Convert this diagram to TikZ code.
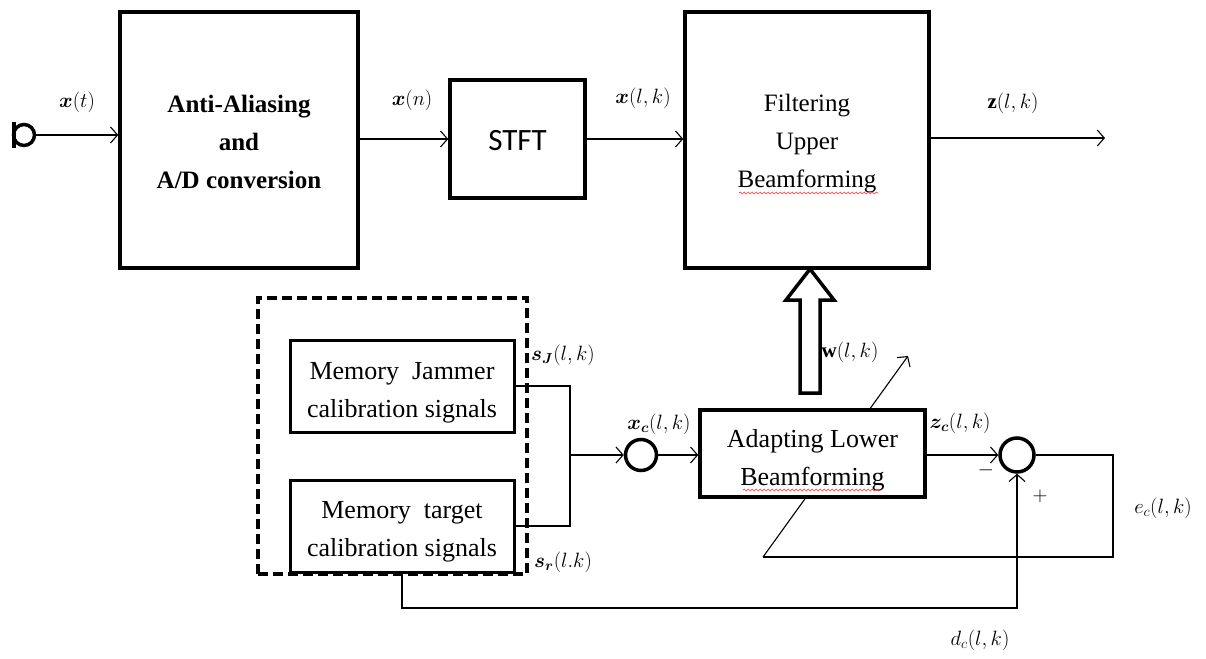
\documentclass[tikz,border=0pt]{standalone}
\usepackage{fontspec}
\usepackage{amsmath,bm}
\setmainfont{Liberation Serif}
\newfontfamily\stftfont{Carlito}
\usetikzlibrary{arrows.meta,decorations.pathmorphing}
\begin{document}
\begin{tikzpicture}[x=1pt,y=-1pt,
  blk/.style={draw,line width=3.5pt,fill=white,inner sep=0pt},
  txt/.style={align=center,inner sep=0pt,font=\fontsize{25}{38}\selectfont},
  conn/.style={line width=1.1pt},
  arr/.style={conn,-{Straight Barb[length=7pt,width=16pt,line width=1.1pt]}},
  lbl/.style={font=\fontsize{21}{24}\selectfont,inner sep=0pt},
  wavy/.style={red!80,line width=0.6pt,decorate,decoration={snake,amplitude=1pt,segment length=4pt}}]
\useasboundingbox (0,0) rectangle (1206,658);

% source
\node[circle,draw,line width=3.5pt,minimum size=21pt,inner sep=0pt] (src) at (24,135) {};
\draw[line width=3.5pt] (14,122) -- (14,148);

% top row
\node[blk,minimum width=238pt,minimum height=256pt] (aa) at (239,140) {};
\node[txt,font=\bfseries\fontsize{25}{38}\selectfont] (aaT) at ([yshift=-2pt]aa.center) {Anti-Aliasing\\and\\A/D conversion};
\node[blk,minimum width=135pt,minimum height=118pt] (stft) at (517.5,139) {};
\node[txt,font=\stftfont\fontsize{31}{32}\selectfont] (stftT) at ([yshift=-2pt]stft.center) {STFT};
\node[blk,minimum width=244pt,minimum height=256pt] (filt) at (807,140) {};
\node[txt] (filtT) at ([yshift=-4pt]filt.center) {Filtering\\Upper\\Beamforming};
\coordinate (zout) at (1105,138);

\draw[arr] (src.east) -- (aa.west |- src.east);
\draw[arr] (aa.east |- stft.west) -- (stft.west);
\draw[arr] (stft.east) -- (filt.west |- stft.east);
\draw[arr] (filt.east |- zout) -- (zout);

\node[lbl] at (77,102) {$\bm{x}(t)$};
\node[lbl] at (412,100) {$\bm{x}(n)$};
\node[lbl] at (643,98) {$\bm{x}(l,k)$};
\node[lbl] at (1013,103) {$\mathbf{z}(l,k)$};

% dashed group
\node[draw,line width=3.5pt,dash pattern=on 10pt off 5pt,minimum width=269pt,minimum height=276pt,inner sep=0pt] (grp) at (392.5,436) {};
\node[blk,line width=3pt,minimum width=224pt,minimum height=92pt] (jam) at (402,386) {};
\node[txt,font=\fontsize{26}{38}\selectfont] (jamT) at ([yshift=-7pt]jam.center) {Memory\ \ Jammer\\calibration signals};
\node[blk,line width=3pt,minimum width=224pt,minimum height=92pt] (tgt) at (402,526) {};
\node[txt,font=\fontsize{26}{38}\selectfont] (tgtT) at ([yshift=-6pt]tgt.center) {Memory\ \ target\\calibration signals};

% adaptive part: diagonal first (behind box)
\coordinate (fb) at (763,557);
\coordinate (tip) at (908,356);
\draw[arr] (fb) -- (tip);
\node[blk,minimum width=225pt,minimum height=87pt] (adp) at (812.5,453.5) {};
\node[txt,font=\fontsize{26}{38}\selectfont] (adpT) at ([yshift=-7pt]adp.center) {Adapting Lower\\Beamforming};
\node[circle,draw,line width=3.5pt,minimum size=31pt,inner sep=0pt] (xc) at (641,455) {};
\node[circle,draw,line width=3.5pt,minimum size=34pt,inner sep=0pt] (sum) at (1017,455) {};

\coordinate (j) at (570,455);
\draw[conn] (jam.east) -| (j) |- (tgt.east);
\draw[arr] (j) -- (xc.west);
\draw[arr] (xc.east) -- (adp.west |- xc.east);
\draw[arr] (adp.east |- sum.west) -- (sum.west);
\draw[conn] (sum.east) -- (1113,455) |- (fb);
\draw[arr] (tgt.south) -- (402,608) -| (sum.south);

% hollow arrow
\draw[line width=3.5pt,fill=white,line join=miter] (800,393) -- (820,393) -- (820,300) -- (834,300) -- (810,269) -- (786,300) -- (800,300) -- cycle;

% spell-check underlines
\draw[wavy] (739,193) -- (878,193);
\draw[wavy] (743,490) -- (881,490);

% labels
\node[lbl] at (563,355) {$\bm{s_J}(l,k)$};
\node[lbl] at (563,562) {$\bm{s_r}(l.k)$};
\node[lbl] at (659,424) {$\bm{x_c}(l,k)$};
\node[lbl] at (850,352) {$\mathbf{w}(l,k)$};
\node[lbl] at (960,423) {$\bm{z_c}(l,k)$};
\node[lbl] at (1163,508) {$e_c(l,k)$};
\node[lbl] at (980,640) {$d_c(l,k)$};
\node[lbl,font=\fontsize{22}{24}\selectfont] at (986,470) {$-$};
\node[lbl,font=\fontsize{22}{24}\selectfont] at (1040,496) {$+$};
\end{tikzpicture}
\end{document}
